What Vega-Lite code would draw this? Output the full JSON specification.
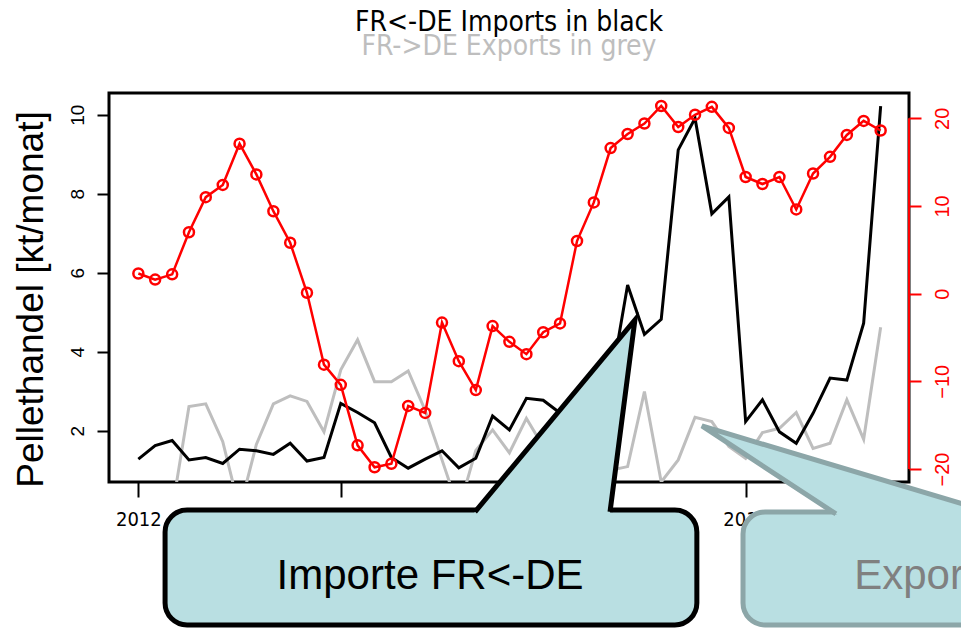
{
  "$schema": "https://vega.github.io/schema/vega-lite/v6.json",
  "width": 800,
  "height": 389,
  "autosize": {"type": "none"},
  "padding": {"left": 109, "top": 93, "right": 52, "bottom": 153},
  "background": "white",
  "config": {
    "view": {"stroke": "black", "strokeWidth": 3},
    "font": "Liberation Sans",
    "axis": {"grid": false, "labelFlush": false, "labelOverlap": false, "labelBound": false}
  },
  "title": {
    "text": "FR<-DE Imports in black",
    "subtitle": "FR->DE Exports in grey",
    "anchor": "middle",
    "frame": "group",
    "font": "DejaVu Sans Condensed, Liberation Sans, sans-serif",
    "fontSize": 28,
    "fontWeight": "normal",
    "color": "black",
    "subtitleFont": "DejaVu Sans Condensed, Liberation Sans, sans-serif",
    "subtitleFontSize": 28,
    "subtitleFontWeight": "normal",
    "subtitleColor": "#bebebe",
    "subtitlePadding": -4,
    "offset": 32
  },
  "data": {
    "values": [
      {"t": 2012.000, "imports": 1.28, "exports": 0.0, "saldo": 2.3},
      {"t": 2012.083, "imports": 1.62, "exports": 0.0, "saldo": 1.6},
      {"t": 2012.167, "imports": 1.75, "exports": 0.0, "saldo": 2.2},
      {"t": 2012.250, "imports": 1.26, "exports": 2.61, "saldo": 7.0},
      {"t": 2012.333, "imports": 1.32, "exports": 2.68, "saldo": 11.0},
      {"t": 2012.417, "imports": 1.17, "exports": 1.72, "saldo": 12.4},
      {"t": 2012.500, "imports": 1.53, "exports": 0.0, "saldo": 17.1},
      {"t": 2012.583, "imports": 1.49, "exports": 1.65, "saldo": 13.6},
      {"t": 2012.667, "imports": 1.40, "exports": 2.68, "saldo": 9.4},
      {"t": 2012.750, "imports": 1.68, "exports": 2.88, "saldo": 5.8},
      {"t": 2012.833, "imports": 1.23, "exports": 2.74, "saldo": 0.1},
      {"t": 2012.917, "imports": 1.32, "exports": 1.97, "saldo": -8.1},
      {"t": 2013.000, "imports": 2.69, "exports": 3.54, "saldo": -10.4},
      {"t": 2013.083, "imports": 2.46, "exports": 4.30, "saldo": -17.3},
      {"t": 2013.167, "imports": 2.20, "exports": 3.24, "saldo": -19.8},
      {"t": 2013.250, "imports": 1.32, "exports": 3.24, "saldo": -19.4},
      {"t": 2013.333, "imports": 1.05, "exports": 3.51, "saldo": -12.8},
      {"t": 2013.417, "imports": 1.28, "exports": 2.51, "saldo": -13.6},
      {"t": 2013.500, "imports": 1.49, "exports": 1.26, "saldo": -3.3},
      {"t": 2013.583, "imports": 1.06, "exports": 0.0, "saldo": -7.7},
      {"t": 2013.667, "imports": 1.30, "exports": 1.50, "saldo": -11.0},
      {"t": 2013.750, "imports": 2.37, "exports": 2.02, "saldo": -3.7},
      {"t": 2013.833, "imports": 2.02, "exports": 1.44, "saldo": -5.5},
      {"t": 2013.917, "imports": 2.82, "exports": 2.31, "saldo": -6.9},
      {"t": 2014.000, "imports": 2.77, "exports": 1.60, "saldo": -4.4},
      {"t": 2014.083, "imports": 2.45, "exports": 1.30, "saldo": -3.4},
      {"t": 2014.167, "imports": 2.20, "exports": 0.90, "saldo": 6.0},
      {"t": 2014.250, "imports": 2.50, "exports": 1.00, "saldo": 10.4},
      {"t": 2014.333, "imports": 3.19, "exports": 1.00, "saldo": 16.6},
      {"t": 2014.417, "imports": 5.69, "exports": 1.09, "saldo": 18.2},
      {"t": 2014.500, "imports": 4.44, "exports": 2.99, "saldo": 19.4},
      {"t": 2014.583, "imports": 4.82, "exports": 0.70, "saldo": 21.4},
      {"t": 2014.667, "imports": 9.11, "exports": 1.26, "saldo": 19.0},
      {"t": 2014.750, "imports": 9.91, "exports": 2.34, "saldo": 20.4},
      {"t": 2014.833, "imports": 7.49, "exports": 2.23, "saldo": 21.3},
      {"t": 2014.917, "imports": 7.92, "exports": 1.60, "saldo": 18.9},
      {"t": 2015.000, "imports": 2.23, "exports": 1.30, "saldo": 13.3},
      {"t": 2015.083, "imports": 2.78, "exports": 1.95, "saldo": 12.5},
      {"t": 2015.167, "imports": 1.97, "exports": 2.06, "saldo": 13.3},
      {"t": 2015.250, "imports": 1.68, "exports": 2.46, "saldo": 9.6},
      {"t": 2015.333, "imports": 2.44, "exports": 1.55, "saldo": 13.7},
      {"t": 2015.417, "imports": 3.33, "exports": 1.68, "saldo": 15.6},
      {"t": 2015.500, "imports": 3.28, "exports": 2.78, "saldo": 18.1},
      {"t": 2015.583, "imports": 4.72, "exports": 1.78, "saldo": 19.7},
      {"t": 2015.667, "imports": 10.22, "exports": 4.62, "saldo": 18.6}
    ]
  },
  "resolve": {"scale": {"y": "independent"}, "axis": {"y": "independent"}},
  "layer": [
    {
      "layer": [
        {
          "mark": {"type": "line", "color": "#bebebe", "strokeWidth": 3, "clip": true},
          "encoding": {
            "x": {"field": "t", "type": "quantitative", "scale": {"domain": [2011.855, 2015.807], "nice": false, "zero": false},
              "axis": {"values": [2012, 2013, 2014, 2015], "format": "d", "title": null, "domain": false,
                "tickSize": 15, "tickWidth": 2, "tickColor": "black",
                "labelFont": "DejaVu Sans Condensed, Liberation Sans, sans-serif",
                "labelFontSize": 20, "labelColor": "black", "labelPadding": 12}},
            "y": {"field": "exports", "type": "quantitative", "scale": {"domain": [0.70, 10.55], "nice": false, "zero": false},
              "axis": {"orient": "left", "values": [2, 4, 6, 8, 10], "title": "Pellethandel [kt/monat]", "domain": false,
                "tickSize": 12, "tickWidth": 2, "tickColor": "black",
                "labelAngle": -90, "labelAlign": "center", "labelBaseline": "bottom",
                "labelFontSize": 19, "labelColor": "black", "labelPadding": 10,
                "titleFontSize": 37, "titleFontWeight": "normal", "titleColor": "black", "titlePadding": 18, "titleY": 206}}
          }
        },
        {
          "mark": {"type": "line", "color": "black", "strokeWidth": 3},
          "encoding": {
            "x": {"field": "t", "type": "quantitative", "scale": {"domain": [2011.855, 2015.807], "nice": false, "zero": false}},
            "y": {"field": "imports", "type": "quantitative", "scale": {"domain": [0.70, 10.55], "nice": false, "zero": false},
              "axis": {"orient": "left", "values": [2, 4, 6, 8, 10], "title": "Pellethandel [kt/monat]", "domain": false,
                "tickSize": 12, "tickWidth": 2, "tickColor": "black",
                "labelAngle": -90, "labelAlign": "center", "labelBaseline": "bottom",
                "labelFontSize": 19, "labelColor": "black", "labelPadding": 10,
                "titleFontSize": 37, "titleFontWeight": "normal", "titleColor": "black", "titlePadding": 18, "titleY": 206}}
          }
        }
      ]
    },
    {
      "layer": [
        {
          "mark": {"type": "line", "color": "red", "strokeWidth": 2.5,
            "point": {"filled": false, "color": "red", "size": 100, "strokeWidth": 2.5}},
          "encoding": {
            "x": {"field": "t", "type": "quantitative", "scale": {"domain": [2011.855, 2015.807], "nice": false, "zero": false}},
            "y": {"field": "saldo", "type": "quantitative", "scale": {"domain": [-21.48, 22.88], "nice": false, "zero": false},
              "axis": {"orient": "right", "values": [-20, -10, 0, 10, 20], "title": null, "domain": false,
                "tickSize": 12, "tickWidth": 2, "tickColor": "red",
                "labelAngle": -90, "labelAlign": "center", "labelBaseline": "top",
                "labelFontSize": 20, "labelColor": "red", "labelPadding": 11}}
          }
        },
        {
          "data": {"values": [{"edge": "right"}]},
          "mark": {"type": "rule", "color": "red", "strokeWidth": 2},
          "encoding": {
            "x": {"datum": 2015.807, "type": "quantitative", "scale": {"domain": [2011.855, 2015.807], "nice": false, "zero": false}},
            "y": {"datum": -20, "type": "quantitative"},
            "y2": {"datum": 20}
          }
        }
      ]
    },
    {
      "layer": [
        {
          "data": {"values": [{"t1": 2012.132, "t2": 2014.759, "v1": -0.01, "v2": -2.92}]},
          "mark": {"type": "rect", "fill": "#b9dfe2", "stroke": "black", "strokeWidth": 5, "cornerRadius": 22},
          "encoding": {
            "x": {"field": "t1", "type": "quantitative", "scale": {"domain": [2011.855, 2015.807], "nice": false, "zero": false}},
            "x2": {"field": "t2"},
            "y": {"field": "v1", "type": "quantitative", "scale": {"domain": [0.70, 10.55], "nice": false, "zero": false}, "axis": null},
            "y2": {"field": "v2"}
          }
        },
        {
          "data": {"values": [{"v": 4.803, "ta": 2014.453, "tb": 2014.453}, {"v": -0.134, "ta": 2013.651, "tb": 2014.328}]},
          "mark": {"type": "area", "orient": "horizontal", "fill": "#b9dfe2", "opacity": 1},
          "encoding": {
            "y": {"field": "v", "type": "quantitative"},
            "x": {"field": "ta", "type": "quantitative"},
            "x2": {"field": "tb"}
          }
        },
        {
          "data": {"values": [{"t": 2013.663, "v": -0.058, "k": 0}, {"t": 2014.453, "v": 4.803, "k": 1}, {"t": 2014.330, "v": -0.058, "k": 2}]},
          "mark": {"type": "line", "color": "black", "strokeWidth": 5, "strokeJoin": "miter"},
          "encoding": {
            "x": {"field": "t", "type": "quantitative"},
            "y": {"field": "v", "type": "quantitative"},
            "order": {"field": "k", "type": "quantitative"}
          }
        },
        {
          "data": {"values": [{"t": 2013.441, "v": -2.01, "label": "Importe FR<-DE"}]},
          "mark": {"type": "text", "font": "Liberation Sans", "fontSize": 42, "color": "black", "align": "center", "baseline": "alphabetic"},
          "encoding": {
            "x": {"field": "t", "type": "quantitative"},
            "y": {"field": "v", "type": "quantitative"},
            "text": {"field": "label"}
          }
        },
        {
          "data": {"values": [{"t1": 2014.987, "t2": 2017.614, "v1": -0.06, "v2": -2.92}]},
          "mark": {"type": "rect", "fill": "#b9dfe2", "stroke": "#8ca6a8", "strokeWidth": 5, "cornerRadius": 22},
          "encoding": {
            "x": {"field": "t1", "type": "quantitative"},
            "x2": {"field": "t2"},
            "y": {"field": "v1", "type": "quantitative"},
            "y2": {"field": "v2"}
          }
        },
        {
          "data": {"values": [{"v": 2.119, "ta": 2014.784, "tb": 2014.784}, {"v": -0.184, "ta": 2015.469, "tb": 2016.286}]},
          "mark": {"type": "area", "orient": "horizontal", "fill": "#b9dfe2", "opacity": 1},
          "encoding": {
            "y": {"field": "v", "type": "quantitative"},
            "x": {"field": "ta", "type": "quantitative"},
            "x2": {"field": "tb"}
          }
        },
        {
          "data": {"values": [{"t": 2015.446, "v": -0.108, "k": 0}, {"t": 2014.784, "v": 2.119, "k": 1}, {"t": 2016.236, "v": -0.108, "k": 2}]},
          "mark": {"type": "line", "color": "#8ca6a8", "strokeWidth": 5, "strokeJoin": "miter"},
          "encoding": {
            "x": {"field": "t", "type": "quantitative"},
            "y": {"field": "v", "type": "quantitative"},
            "order": {"field": "k", "type": "quantitative"}
          }
        },
        {
          "data": {"values": [{"t": 2016.300, "v": -2.01, "label": "Exporte FR->DE"}]},
          "mark": {"type": "text", "font": "Liberation Sans", "fontSize": 42, "color": "#808080", "align": "center", "baseline": "alphabetic"},
          "encoding": {
            "x": {"field": "t", "type": "quantitative"},
            "y": {"field": "v", "type": "quantitative"},
            "text": {"field": "label"}
          }
        }
      ]
    }
  ]
}
